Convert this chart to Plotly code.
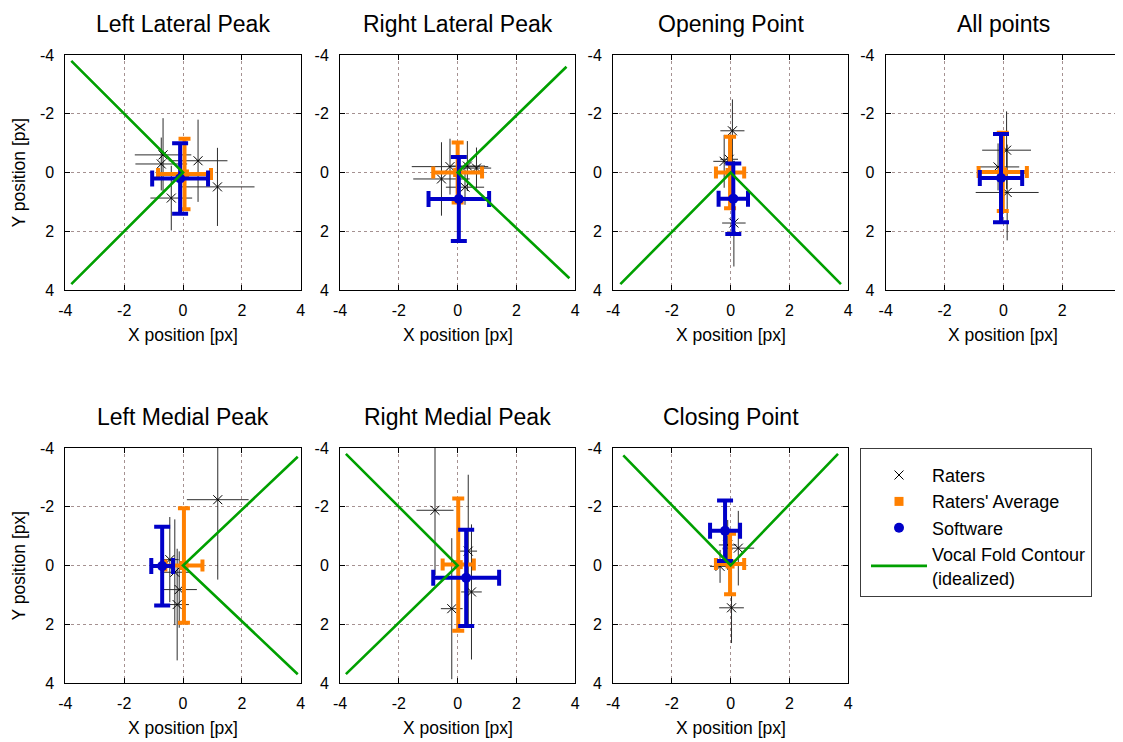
import plotly.graph_objects as go

W, H = 1123, 742
OFF = 8  # page body margin compensation (px)

# ---------------- data ----------------
panel_titles = ["Left Lateral Peak", "Right Lateral Peak", "Opening Point", "All points",
                "Left Medial Peak", "Right Medial Peak", "Closing Point"]

rater_x = [
    [-0.68, -0.74, 0.51, 1.17, -0.40],
    [-0.55, -0.26, 0.33, 0.25, 0.64],
    [0.06, -0.22, 0.11, -0.05],
    [0.11, -0.18, 0.13],
    [1.18, -0.45, -0.28, -0.13, -0.20],
    [-0.77, 0.36, 0.47, -0.20],
    [0.03, 0.26, -0.36, -0.10],
]
rater_y = [
    [-0.60, -0.29, -0.40, 0.49, 0.87],
    [0.22, -0.20, -0.22, 0.50, -0.15],
    [-1.42, -0.38, 1.72, -0.45],
    [-0.76, -0.19, 0.68],
    [-2.24, -0.20, 0.23, 0.82, 1.33],
    [-1.88, -0.49, 0.90, 1.47],
    [1.44, -0.59, 0.03, -0.70],
]
rater_ex = [
    [0.96, 0.88, 1.00, 1.26, 0.71],
    [0.96, 1.30, 0.60, 0.65, 0.50],
    [0.41, 0.37, 0.40, 0.30],
    [0.83, 0.72, 1.07],
    [1.05, 0.30, 0.48, 0.60, 0.40],
    [0.63, 0.30, 0.35, 0.37],
    [0.42, 0.54, 0.34, 0.30],
]
rater_ey = [
    [1.25, 0.90, 1.40, 1.33, 1.10],
    [1.25, 0.95, 0.85, 0.60, 0.70],
    [1.07, 0.90, 1.48, 0.60],
    [1.32, 0.80, 1.63],
    [2.72, 1.45, 1.80, 1.30, 1.90],
    [2.20, 2.60, 2.30, 2.40],
    [1.20, 1.27, 0.56, 0.85],
]

avg_x = [0.05, 0.00, -0.02, -0.02, 0.03, 0.02, -0.02]
avg_y = [0.05, 0.00, 0.00, -0.02, 0.00, -0.03, -0.05]
avg_ex = [0.90, 0.83, 0.48, 0.82, 0.63, 0.53, 0.48]
avg_ey = [1.20, 1.02, 1.22, 1.33, 1.95, 2.25, 1.03]

sw_x = [-0.10, 0.04, 0.09, -0.08, -0.71, 0.29, -0.19]
sw_y = [0.20, 0.90, 0.89, 0.19, 0.02, 0.42, -1.18]
sw_ex = [0.95, 1.03, 0.50, 0.72, 0.37, 1.12, 0.51]
sw_ey = [1.20, 1.43, 1.20, 1.50, 1.34, 1.64, 1.03]

contour_x = [[-3.8, 0, -3.8], [3.7, 0, 3.8], [-3.75, 0, 3.75], [],
             [3.9, 0, 3.9], [-3.8, 0, -3.8], [-3.65, 0, 3.65]]
contour_y = [[-3.8, 0, 3.8], [-3.6, 0, 3.6], [3.8, 0, 3.8], [],
             [-3.7, 0, 3.7], [-3.8, 0, 3.7], [-3.75, 0, -3.8]]

tick_vals = [-4, -2, 0, 2, 4]
tick_text = ["-4", "-2", "0", "2", "4"]

# ---------------- style / layout ----------------
FONT = "Arial, Liberation Sans, sans-serif"
ORANGE = "#FF8000"
BLUE = "#0000C8"
GREEN = "#00A000"
GRID = "rgb(165,145,145)"

col_left = [65.4 - OFF, 340.0 - OFF, 613.0 - OFF, 885.7 - OFF]
panel_w = 235.3
row_top = [55.0 - OFF, 448.0 - OFF]
panel_h = 235.0
positions = [(0, 0), (0, 1), (0, 2), (0, 3), (1, 0), (1, 1), (1, 2)]

fig = go.Figure()
annotations = []
layout_axes = {}

for i, title in enumerate(panel_titles):
    r, c = positions[i]
    xs = "x" if i == 0 else f"x{i+1}"
    ys = "y" if i == 0 else f"y{i+1}"
    x0, x1 = col_left[c], col_left[c] + panel_w
    y0, y1 = row_top[r], row_top[r] + panel_h
    first = (i == 0)

    fig.add_trace(go.Scatter(
        x=rater_x[i], y=rater_y[i], mode="markers", name="Raters",
        showlegend=first,
        marker=dict(symbol="x-thin", size=9, color="black",
                    line=dict(width=1, color="black")),
        error_x=dict(type="data", array=rater_ex[i], color="rgb(45,45,45)",
                     thickness=1, width=0),
        error_y=dict(type="data", array=rater_ey[i], color="rgb(45,45,45)",
                     thickness=1, width=0),
        xaxis=xs, yaxis=ys))
    fig.add_trace(go.Scatter(
        x=[avg_x[i]], y=[avg_y[i]], mode="markers", name="Raters' Average",
        showlegend=first,
        marker=dict(symbol="square", size=9, color=ORANGE),
        error_x=dict(type="data", array=[avg_ex[i]], color=ORANGE,
                     thickness=4, width=6),
        error_y=dict(type="data", array=[avg_ey[i]], color=ORANGE,
                     thickness=4, width=6),
        xaxis=xs, yaxis=ys))
    fig.add_trace(go.Scatter(
        x=[sw_x[i]], y=[sw_y[i]], mode="markers", name="Software",
        showlegend=first,
        marker=dict(symbol="circle", size=10, color=BLUE),
        error_x=dict(type="data", array=[sw_ex[i]], color=BLUE,
                     thickness=4, width=8),
        error_y=dict(type="data", array=[sw_ey[i]], color=BLUE,
                     thickness=4, width=8),
        xaxis=xs, yaxis=ys))
    if contour_x[i]:
        fig.add_trace(go.Scatter(
            x=contour_x[i], y=contour_y[i], mode="lines",
            name="Vocal Fold Contour<br>(idealized)",
            showlegend=first,
            line=dict(color=GREEN, width=2.6),
            xaxis=xs, yaxis=ys))

    common = dict(
        tickvals=tick_vals, ticktext=tick_text,
        showline=True, linecolor="black", linewidth=1, mirror="ticks",
        ticks="inside", ticklen=5, tickcolor="black", tickwidth=1,
        showgrid=True, gridcolor=GRID, griddash="dot", gridwidth=1,
        zeroline=False, tickfont=dict(family=FONT, size=16, color="black"),
        fixedrange=True, automargin=False,
    )
    xkey = "xaxis" if i == 0 else f"xaxis{i+1}"
    ykey = "yaxis" if i == 0 else f"yaxis{i+1}"
    layout_axes[xkey] = dict(common, range=[-4, 4], anchor=ys,
                             domain=[x0 / W, x1 / W], ticklabelstandoff=6)
    layout_axes[ykey] = dict(common, range=[4, -4], anchor=xs,
                             domain=[1 - y1 / H, 1 - y0 / H], ticklabelstandoff=7)

    cx = (x0 + x1) / 2
    annotations.append(dict(text=title, x=cx / W, y=1 - (y0 - 31) / H,
                            xref="paper", yref="paper", showarrow=False,
                            xanchor="center", yanchor="middle",
                            font=dict(family=FONT, size=23, color="black")))
    annotations.append(dict(text="X position [px]", x=cx / W, y=1 - (y1 + 45) / H,
                            xref="paper", yref="paper", showarrow=False,
                            xanchor="center", yanchor="middle",
                            font=dict(family=FONT, size=17.5, color="black")))
    if c == 0:
        annotations.append(dict(text="Y position [px]", x=(18 - OFF) / W,
                                y=1 - ((y0 + y1) / 2) / H,
                                xref="paper", yref="paper", showarrow=False,
                                textangle=-90, xanchor="center", yanchor="middle",
                                font=dict(family=FONT, size=17.5, color="black")))

fig.update_layout(
    width=W, height=H,
    margin=dict(l=0, r=0, t=0, b=0, pad=0, autoexpand=False),
    paper_bgcolor="white", plot_bgcolor="white",
    font=dict(family=FONT, color="black"),
    annotations=annotations,
    showlegend=True,
    legend=dict(x=(860 - OFF) / W, y=1 - (448 - OFF) / H, xanchor="left", yanchor="top",
                bordercolor="rgb(60,60,60)", borderwidth=1, bgcolor="white",
                font=dict(family=FONT, size=18, color="black"),
                title=dict(text=" ", font=dict(size=6)),
                indentation=5, itemwidth=56, traceorder="normal",
                entrywidth=190, entrywidthmode="pixels"),
    **layout_axes,
)

fig.write_html("out.html")
